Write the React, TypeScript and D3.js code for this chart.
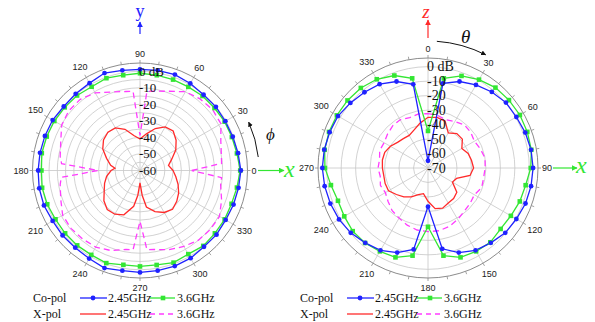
import React from 'react';
import * as d3 from 'd3';

// angles (deg) of the sampled co-pol points, 10 degree steps
const ANGLES = [0, 10, 20, 30, 40, 50, 60, 70, 80, 90, 100, 110, 120, 130, 140, 150, 160, 170,
  180, 190, 200, 210, 220, 230, 240, 250, 260, 270, 280, 290, 300, 310, 320, 330, 340, 350];
const SPOKES = [0, 30, 60, 90, 120, 150, 180, 210, 240, 270, 300, 330];
const SPOKE_LABELS = ['0', '30', '60', '90', '120', '150', '180', '210', '240', '270', '300', '330'];

// left panel: phi cut (xy-plane)
const LEFT_RINGS = [-55, -50, -45, -40, -35, -30, -25, -20, -15, -10, -5, 0];
const LEFT_RLABEL_VALUES = [0, -10, -20, -30, -40, -50, -60];
const LEFT_RLABELS = ['0 dB', '-10', '-20', '-30', '-40', '-50', '-60'];
const leftCo245 = [1.0, 0.2, -0.3, -0.4, -0.1, -0.2, 0.8, 1.7, 1.5, 1.2, 1.5, 2.7, 1.0, 0.5, 0.2, 1.0, 1.2, 1.4,
  1.6, 1.9, 1.8, 1.0, 1.1, 0.9, 1.5, 2.8, 1.5, 1.6, 1.5, 1.5, 1.2, 0.2, 0.4, -0.2, 0.2, 0.5];
const leftCo36 = [0.6, -0.5, -0.9, -0.9, -1.2, -1.2, -1.6, -1.5, -1.5, -1.2, -1.5, -0.6, -1.5, -0.8, -0.6, -0.2, 0, 0.3,
  -0.4, 0.1, -0.3, -1.0, -0.9, -0.9, -1.1, -0.4, -2.1, -2.0, -2.0, -0.7, -1.6, -0.5, -0.9, -0.9, -1.1, -0.5];
const leftX245: [number, number][] = [[0, -40], [10, -42.5], [20, -39.5], [30, -35], [40, -31.5], [50, -28.8],
  [60, -29.5], [70, -33], [80, -37.5], [90, -41], [100, -38.5], [110, -33.5], [120, -30.3], [130, -29.8],
  [140, -31.2], [150, -34], [160, -38.5], [170, -42], [175, -44.8], [180, -42.5], [190, -39.5], [200, -37.2],
  [210, -35], [220, -31.5], [230, -29.2], [240, -29.5], [250, -31.5], [260, -38], [265, -45], [270, -52.5],
  [275, -45], [280, -37.6], [290, -33.5], [300, -30.7], [310, -29.4], [320, -31], [330, -33], [340, -35.5], [350, -38]];
const leftX36: [number, number][] = [[0, -28.7], [5, -10.5], [10, -10], [20, -8], [30, -3.5], [40, -2.7],
  [50, -3.5], [60, -5], [70, -9], [80, -11.3], [85, -12], [90, -38.8], [95, -12], [100, -11.5], [110, -9.5],
  [120, -5.8], [130, -3.8], [140, -3.8], [150, -5.3], [160, -9], [170, -11], [175, -12.4], [180, -34.7],
  [185, -12.2], [190, -11], [200, -9], [210, -6], [220, -5.5], [230, -6], [240, -6.5], [250, -8.5], [260, -11.5],
  [265, -12], [270, -29.3], [275, -12], [280, -11.5], [290, -9], [300, -7], [310, -5], [320, -4.5], [330, -4.5],
  [340, -7.5], [350, -10.5], [355, -10.5]];

// right panel: theta cut (xz-plane)
const RIGHT_RINGS = [-60, -50, -40, -30, -20, -10, 0];
const RIGHT_RLABEL_VALUES = [0, -10, -20, -30, -40, -50, -60, -70];
const RIGHT_RLABELS = ['0 dB', '-10', '-20', '-30', '-40', '-50', '-60', '-70'];
const rightCo245 = [-65, -10.6, -6.4, -3.7, -1.4, 0.3, 0.5, 1.5, 2.3, 2.6, 2.3, 1.7, 0.5, -0.3, -2.5, -4.3, -7.8, -13.3,
  -43.3, -12.9, -7.8, -4.3, -2.5, -0.3, 1.0, 1.8, 2.5, 3.0, 2.8, 2.3, 1.8, 0, -1.7, -3.1, -6.4, -11.3];
const rightCo36 = [-44.4, -7.1, -2.3, 0.5, 2.5, 3.0, 3.3, 3.0, 2.5, 1.0, -1.5, -2.5, -3.9, -4.5, -3.0, -3.5, -4.3, -8.5,
  -29.4, -8.5, -4.3, -3.5, -2.4, -2.1, -3.2, -3.8, -1.9, 1.2, 2.5, 2.8, 2.7, 2.6, 2.2, 0.8, -2.0, -7.1];
const rightX245 = [-35, -34.5, -35.5, -42, -39, -39, -43, -40.5, -39.5, -38.5, -40.5, -49, -50.5, -44, -42.5, -42, -40.5, -41.5,
  -47, -52, -50.5, -47, -44, -41.5, -38.5, -38.5, -39, -38.5, -38, -38.2, -40, -42.5, -43.5, -44, -42, -38.5];
const rightX36 = [-32.5, -33, -34.5, -33, -31, -31.5, -33, -31.5, -30, -30.5, -31, -30.5, -33, -32, -31, -29, -27, -26,
  -26, -26.5, -28, -30, -31.5, -34, -36, -35, -36.5, -35.5, -36, -34.5, -35, -33.5, -32, -31.5, -33, -32];

const BLUE = '#1f22ff';
const GREEN = '#33e633';
const RED = '#ff2a2a';
const MAGENTA = '#ff3cff';
const GRID = '#c6c6c6';
const SERIF = '"Liberation Serif", "Times New Roman", serif';
const SANS = '"Liberation Sans", Arial, sans-serif';
const deg = Math.PI / 180;

type Series = {
  pts: [number, number][];
  color: string;
  dash?: string;
  marker?: 'circle' | 'square';
};

const zip = (a: number[], v: number[]) => a.map((x, i) => [x, v[i]] as [number, number]);

type PanelProps = {
  cx: number;
  cy: number;
  outerR: number;
  domain: [number, number];
  rings: number[];
  rLabelValues: number[];
  rLabels: string[];
  rLabelSize: number;
  toAngle: (a: number) => number;
  series: Series[];
};

const PolarPanel: React.FC<PanelProps> = ({ cx, cy, outerR, domain, rings, rLabelValues, rLabels, rLabelSize, toAngle, series }) => {
  const r = d3.scaleLinear().domain(domain).range([0, outerR]).clamp(true);
  const line = d3
    .lineRadial<[number, number]>()
    .angle((d) => toAngle(d[0]))
    .radius((d) => r(d[1]))
    .curve(d3.curveLinearClosed);

  return (
    <g transform={`translate(${cx},${cy})`}>
      {rings.map((v) => (
        <circle key={v} r={r(v)} fill="none" stroke={GRID} strokeWidth={0.8} />
      ))}
      {SPOKES.map((a) => {
        const [x, y] = d3.pointRadial(toAngle(a), outerR);
        return <line key={a} x1={0} y1={0} x2={x} y2={y} stroke={GRID} strokeWidth={0.8} />;
      })}
      <circle r={outerR} fill="none" stroke="#8c8c8c" strokeWidth={1} />
      {ANGLES.map((a) => {
        const [x1, y1] = d3.pointRadial(toAngle(a), outerR);
        const [x2, y2] = d3.pointRadial(toAngle(a), outerR + 3);
        return <line key={a} x1={x1} y1={y1} x2={x2} y2={y2} stroke="#8c8c8c" strokeWidth={0.8} />;
      })}
      {SPOKES.map((a, i) => {
        const ang = toAngle(a);
        const label = SPOKE_LABELS[i];
        const hw = label.length * 2.5;
        const rr = outerR + 4 + hw * Math.abs(Math.sin(ang)) + 5.5 * Math.abs(Math.cos(ang));
        const [x, y] = d3.pointRadial(ang, rr);
        return (
          <text key={a} x={x} y={y} textAnchor="middle" dominantBaseline="central" fontFamily={SANS} fontSize={9} fill="#222">
            {label}
          </text>
        );
      })}
      {series.map((s, i) => (
        <path key={i} d={line(s.pts) || ''} fill="none" stroke={s.color} strokeWidth={1.3} strokeDasharray={s.dash} />
      ))}
      {series.map((s, i) =>
        s.marker
          ? s.pts.map(([a, v]) => {
              const [x, y] = d3.pointRadial(toAngle(a), r(v));
              return s.marker === 'circle' ? (
                <circle key={`${i}-${a}`} cx={x} cy={y} r={2.4} fill={s.color} />
              ) : (
                <rect key={`${i}-${a}`} x={x - 2.3} y={y - 2.3} width={4.6} height={4.6} fill={s.color} />
              );
            })
          : null
      )}
      {rLabelValues.map((v, i) => (
        <text key={v} x={-1} y={-r(v)} dominantBaseline="central" fontFamily={SERIF} fontSize={rLabelSize} fill="#111">
          {rLabels[i]}
        </text>
      ))}
    </g>
  );
};

const Legend: React.FC<{ x: number }> = ({ x }) => {
  const y1 = 298;
  const y2 = 314;
  return (
    <g fontFamily={SERIF} fontSize={12} fill="#111">
      <text x={x} y={y1} dominantBaseline="central">Co-pol</text>
      <text x={x} y={y2} dominantBaseline="central">X-pol</text>
      <line x1={x + 47} x2={x + 74} y1={y1} y2={y1} stroke={BLUE} strokeWidth={1.3} />
      <circle cx={x + 60} cy={y1} r={2.4} fill={BLUE} />
      <text x={x + 75} y={y1} dominantBaseline="central">2.45GHz</text>
      <line x1={x + 117} x2={x + 142} y1={y1} y2={y1} stroke={GREEN} strokeWidth={1.3} />
      <rect x={x + 127.7} y={y1 - 2.3} width={4.6} height={4.6} fill={GREEN} />
      <text x={x + 144} y={y1} dominantBaseline="central">3.6GHz</text>
      <line x1={x + 47} x2={x + 73} y1={y2} y2={y2} stroke={RED} strokeWidth={1.3} />
      <text x={x + 75} y={y2} dominantBaseline="central">2.45GHz</text>
      <line x1={x + 117} x2={x + 141} y1={y2} y2={y2} stroke={MAGENTA} strokeWidth={1.3} strokeDasharray="5,4" />
      <text x={x + 144} y={y2} dominantBaseline="central">3.6GHz</text>
    </g>
  );
};

const arcPath = (cx: number, cy: number, rad: number, a0: number, a1: number, sweep: number) => {
  const [x0, y0] = d3.pointRadial(a0, rad);
  const [x1, y1] = d3.pointRadial(a1, rad);
  return `M${cx + x0},${cy + y0} A${rad},${rad} 0 0 ${sweep} ${cx + x1},${cy + y1}`;
};

export default function App() {
  const L = { cx: 140, cy: 170.5 };
  const R = { cx: 428, cy: 168 };
  const leftAngle = (a: number) => (90 - a) * deg;
  const rightAngle = (a: number) => a * deg;

  return (
    <svg width={595} height={322} style={{ position: 'absolute', left: 0, top: 0, background: '#fff' }}>
      <defs>
        {[['ah-blue', BLUE], ['ah-green', GREEN], ['ah-red', RED], ['ah-black', '#111']].map(([id, c]) => (
          <marker key={id} id={id} viewBox="0 0 10 10" refX={9} refY={5} markerWidth={5} markerHeight={5} orient="auto">
            <path d="M0,0 L10,5 L0,10 z" fill={c} />
          </marker>
        ))}
      </defs>

      <PolarPanel
        cx={L.cx}
        cy={L.cy}
        outerR={107.5}
        domain={[-60, 5]}
        rings={LEFT_RINGS}
        rLabelValues={LEFT_RLABEL_VALUES}
        rLabels={LEFT_RLABELS}
        rLabelSize={13}
        toAngle={leftAngle}
        series={[
          { pts: leftX36, color: MAGENTA, dash: '6,4' },
          { pts: leftX245, color: RED },
          { pts: zip(ANGLES, leftCo36), color: GREEN, marker: 'square' },
          { pts: zip(ANGLES, leftCo245), color: BLUE, marker: 'circle' },
        ]}
      />

      <PolarPanel
        cx={R.cx}
        cy={R.cy}
        outerR={110}
        domain={[-70, 6]}
        rings={RIGHT_RINGS}
        rLabelValues={RIGHT_RLABEL_VALUES}
        rLabels={RIGHT_RLABELS}
        rLabelSize={14}
        toAngle={rightAngle}
        series={[
          { pts: zip(ANGLES, rightX36), color: MAGENTA, dash: '6,4' },
          { pts: zip(ANGLES, rightX245), color: RED },
          { pts: zip(ANGLES, rightCo36), color: GREEN, marker: 'square' },
          { pts: zip(ANGLES, rightCo245), color: BLUE, marker: 'circle' },
        ]}
      />

      {/* axis arrows, left panel */}
      <line x1={L.cx} y1={34} x2={L.cx} y2={22} stroke={BLUE} strokeWidth={1.2} markerEnd="url(#ah-blue)" />
      <text x={L.cx} y={17} textAnchor="middle" fontFamily={SERIF} fontSize={18} fill={BLUE}>y</text>
      <line x1={258} y1={L.cy} x2={284} y2={L.cy} stroke={GREEN} strokeWidth={1.2} markerEnd="url(#ah-green)" />
      <text x={284} y={177} fontFamily={SERIF} fontStyle="italic" fontSize={24} fill={GREEN}>x</text>
      <path d={arcPath(L.cx, L.cy, 119, leftAngle(6.5), leftAngle(24), 0)} fill="none" stroke="#111" strokeWidth={1} markerEnd="url(#ah-black)" />
      <text x={266} y={140} fontFamily={SERIF} fontStyle="italic" fontSize={17} fill="#111">ϕ</text>

      {/* axis arrows, right panel */}
      <line x1={R.cx} y1={38} x2={R.cx} y2={20} stroke={RED} strokeWidth={1.2} markerEnd="url(#ah-red)" />
      <text x={R.cx - 2} y={18} textAnchor="middle" fontFamily={SERIF} fontStyle="italic" fontSize={19} fill={RED}>z</text>
      <path d={arcPath(R.cx, R.cy, 127, rightAngle(4), rightAngle(27), 1)} fill="none" stroke="#111" strokeWidth={1} markerEnd="url(#ah-black)" />
      <text x={461} y={43} fontFamily={SERIF} fontStyle="italic" fontSize={19} fill="#111">θ</text>
      <line x1={553} y1={R.cy} x2={577} y2={R.cy} stroke={GREEN} strokeWidth={1.2} markerEnd="url(#ah-green)" />
      <text x={576} y={173} fontFamily={SERIF} fontStyle="italic" fontSize={24} fill={GREEN}>x</text>

      <Legend x={33} />
      <Legend x={300} />
    </svg>
  );
}
